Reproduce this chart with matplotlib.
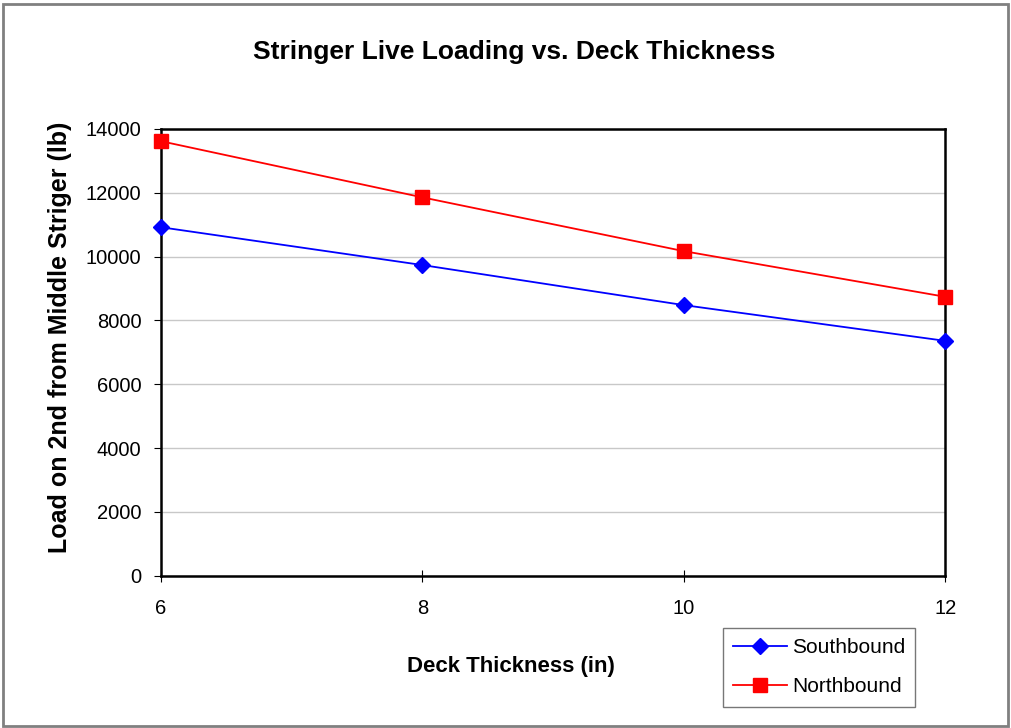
import matplotlib.pyplot as plt
from matplotlib.patches import Rectangle

plt.rcParams['font.family'] = ['Liberation Sans', 'DejaVu Sans']

# deck thickness (in) and live load on 2nd stringer from middle (lb)
thickness = [6, 8, 10, 12]
southbound = [10920, 9735, 8480, 7360]
northbound = [13615, 11855, 10170, 8740]

fig = plt.figure(figsize=(10.11, 7.28), dpi=100)
ax = fig.add_axes([0.159, 0.209, 0.776, 0.614])

ax.plot(thickness, southbound, '-D', color='blue', markersize=8.5, linewidth=1.3,
        label='Southbound', clip_on=False, zorder=3)
ax.plot(thickness, northbound, '-s', color='red', markersize=10.5, linewidth=1.3,
        label='Northbound', clip_on=False, zorder=3)

ax.set_xlim(6, 12)
ax.set_ylim(0, 14000)
ax.set_xticks([6, 8, 10, 12])
ax.set_yticks(range(0, 14001, 2000))
ax.yaxis.grid(True, color='#c8c8c8', linewidth=1)
ax.set_axisbelow(True)
for s in ax.spines.values():
    s.set_linewidth(1.8)
ax.tick_params(axis='y', direction='out', length=5, labelsize=14.5, pad=9)
ax.tick_params(axis='x', direction='inout', length=8, labelsize=14.5, pad=13)

# titles and axis labels placed on the figure
fig.text(0.509, 0.928, 'Stringer Live Loading vs. Deck Thickness', ha='center', va='center',
         fontsize=19, fontweight='bold')
fig.text(0.505, 0.085, 'Deck Thickness (in)', ha='center', va='center',
         fontsize=16, fontweight='bold')
fig.text(0.059, 0.536, 'Load on 2nd from Middle Striger (lb)', ha='center', va='center',
         rotation=90, fontsize=18, fontweight='bold')

leg = ax.legend(loc='upper left', bbox_to_anchor=(723 / 1011, 1 - 628 / 728),
                bbox_transform=fig.transFigure, borderaxespad=0, fontsize=15,
                frameon=True, fancybox=False, edgecolor='#555555', borderpad=0.5,
                labelspacing=0.95, handlelength=2.55, handletextpad=0.25)
leg.get_frame().set_linewidth(1)

# outer border around the chart area
fig.patches.append(Rectangle((0.003, 0.003), 0.994, 0.991, transform=fig.transFigure,
                             fill=False, edgecolor='#808080', linewidth=2))

fig.savefig('out.png', dpi=100)
